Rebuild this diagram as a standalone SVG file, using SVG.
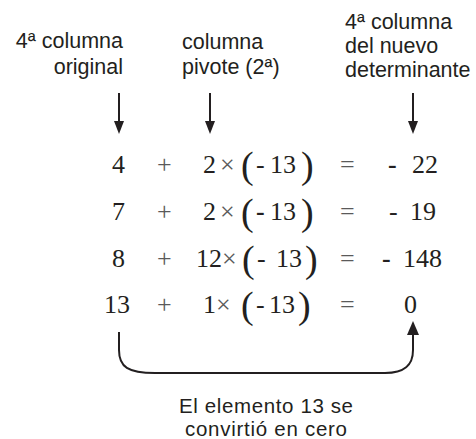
<svg xmlns="http://www.w3.org/2000/svg" width="476" height="439" viewBox="0 0 476 439">
<defs>
<style>
.lab{font-family:"Liberation Sans",Arial,sans-serif;font-size:21.5px;fill:#231f20}
.cap{font-family:"Liberation Sans",Arial,sans-serif;font-size:20.5px;fill:#231f20}
.num{font-family:"Liberation Serif","Times New Roman",serif;font-size:26px;fill:#231f20}
.op{font-family:"Liberation Serif","Times New Roman",serif;font-size:26px;fill:#5a5a5a}
.par{font-family:"Liberation Serif","Times New Roman",serif;font-size:38px;fill:#231f20}
.b{font-weight:bold}
.ln{stroke:#231f20;stroke-width:2;fill:none}
.ah{fill:#231f20}
</style>
</defs>
<rect width="476" height="439" fill="#ffffff"/>
<g id="label-original">
<text class="lab" x="123" y="48" text-anchor="end">4ª columna</text>
<text class="lab" x="123" y="74" text-anchor="end">original</text>
</g>
<g id="label-pivote">
<text class="lab" x="182" y="49">columna</text>
<text class="lab" x="182" y="74">pivote (2ª)</text>
</g>
<g id="label-nuevo">
<text class="lab" x="345" y="29">4ª columna</text>
<text class="lab" x="345" y="53">del nuevo</text>
<text class="lab" x="345" y="77">determinante</text>
</g>
<g id="row1">
<text class="num" x="112" y="173">4</text>
<text class="op" x="157" y="173">+</text>
<text class="num" x="203" y="173">2</text>
<text class="op" x="220" y="173">×</text>
<text class="par" x="241" y="178">(</text>
<text class="num" x="256" y="173">-</text>
<text class="num" x="270" y="173">13</text>
<text class="par" x="301" y="178">)</text>
<text class="op" x="340" y="173">=</text>
<text class="num b" x="388" y="173">-</text>
<text class="num" x="412" y="173">22</text>
</g>
<g id="row2">
<text class="num" x="112" y="220">7</text>
<text class="op" x="157" y="220">+</text>
<text class="num" x="203" y="220">2</text>
<text class="op" x="220" y="220">×</text>
<text class="par" x="241" y="225">(</text>
<text class="num b" x="256" y="220">-</text>
<text class="num" x="270" y="220">13</text>
<text class="par" x="301" y="225">)</text>
<text class="op" x="340" y="220">=</text>
<text class="num" x="389" y="220">-</text>
<text class="num" x="410" y="220">19</text>
</g>
<g id="row3">
<text class="num" x="112" y="267">8</text>
<text class="op" x="157" y="267">+</text>
<text class="num" x="196" y="267">12</text>
<text class="op" x="222" y="267">×</text>
<text class="par" x="242" y="272">(</text>
<text class="num" x="257" y="267">-</text>
<text class="num" x="276" y="267">13</text>
<text class="par" x="305" y="272">)</text>
<text class="op" x="340" y="267">=</text>
<text class="num b" x="382" y="267">-</text>
<text class="num" x="403" y="267">148</text>
</g>
<g id="row4">
<text class="num" x="104" y="313">13</text>
<text class="op" x="157" y="313">+</text>
<text class="num" x="203" y="313">1</text>
<text class="op" x="216" y="313">×</text>
<text class="par" x="241" y="318">(</text>
<text class="num" x="256" y="313">-</text>
<text class="num" x="269" y="313">13</text>
<text class="par" x="298" y="318">)</text>
<text class="op" x="340" y="313">=</text>
<text class="num" x="404" y="313">0</text>
</g>
<g id="caption">
<text class="cap" x="266" y="413" text-anchor="middle" textLength="174" lengthAdjust="spacing">El elemento 13 se</text>
<text class="cap" x="266" y="436" text-anchor="middle" textLength="162" lengthAdjust="spacing">convirtió en cero</text>
</g>
<g id="connectors">
<line class="ln" x1="119" y1="93" x2="119" y2="124"/>
<polygon class="ah" points="119,134 114,121 124,121"/>
<line class="ln" x1="210" y1="93" x2="210" y2="124"/>
<polygon class="ah" points="210,134 205,121 215,121"/>
<line class="ln" x1="413" y1="93" x2="413" y2="124"/>
<polygon class="ah" points="413,134 408,121 418,121"/>
<path class="ln" d="M119,332 V350 C119,367 128,373 155,373 L385,373 C405,373 413,365 413,350 V332"/>
<polygon class="ah" points="413,321 407,335 419,335"/>
</g>
</svg>
